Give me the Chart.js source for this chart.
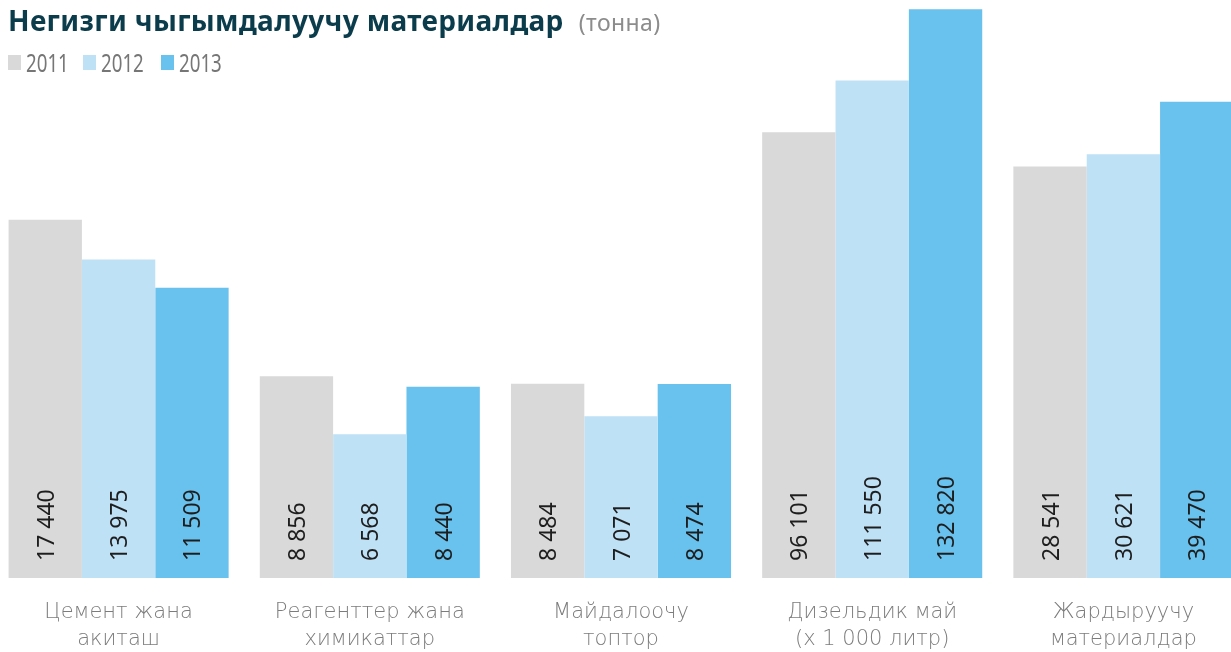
<!DOCTYPE html>
<html>
<head>
<meta charset="utf-8">
<script src="https://cdn.jsdelivr.net/npm/chart.js@4.4.1/dist/chart.umd.min.js"></script>
<style>
    html, body { margin: 0; padding: 0; background: #fff; overflow: hidden; }
    body { width: 1231px; height: 652px; position: relative; font-family: "Noto Sans", sans-serif; }
    #wrap { position: absolute; left: -7px; top: 0; width: 1256px; height: 652px; }
    #title { position: absolute; left: 8px; top: 0; z-index: 2; font-size: 28px; line-height: 40px; font-weight: 700; color: #0b3c4c; white-space: nowrap; letter-spacing: 0.35px; }
    #title span { font-size: 23px; font-weight: 400; color: #8c8c8c; margin-left: 15px; letter-spacing: 0.4px; }
    #legend { position: absolute; left: 0; top: 48px; z-index: 2; }
    #legend div { position: absolute; top: 0; height: 28px; white-space: nowrap; }
    #legend i { position: absolute; left: 0; top: 7px; width: 13px; height: 15px; }
    #legend span { position: absolute; top: -1px; font-size: 26px; line-height: 30px; color: #767676; transform: scaleX(0.72); transform-origin: left center; }
</style>
</head>
<body>
<div id="title">Негизги чыгымдалуучу материалдар<span>(тонна)</span></div>
<div id="legend"></div>
<div id="wrap"><canvas id="chart" width="1256" height="652"></canvas></div>
<script>
"use strict";

const categories = [
    ["Цемент жана", "акиташ"],
    ["Реагенттер жана", "химикаттар"],
    ["Майдалоочу", "топтор"],
    ["Дизельдик май", "(x 1 000 литр)"],
    ["Жардыруучу", "материалдар"]
];
const years = ["2011", "2012", "2013"];
const values2011 = [17440, 8856, 8484, 96101, 28541];
const values2012 = [13975, 6568, 7071, 111550, 30621];
const values2013 = [11509, 8440, 8474, 132820, 39470];

// each group is drawn on its own hidden scale, like in the original layout
const groupMin = [-13800, 900, 0, -36900, -40800];
const groupMax = [36600, 23700, 25250, 135600, 56600];
const colors = ["#d9d9d9", "#bfe1f6", "#69c1ed"];
const legendX = [8, 83, 161];

const series = [values2011, values2012, values2013];

function formatValue(v) {
    return String(v).replace(/\B(?=(\d{3})+(?!\d))/g, " ");
}

function buildDatasets() {
    const results = [];
    categories.forEach((cat, i) => {
        series.forEach((values, j) => {
            const data = categories.map((c, k) => (k === i ? values[k] : null));
            results.push({
                label: years[j],
                data: data,
                backgroundColor: colors[j],
                yAxisID: "y" + i,
                base: groupMin[i]
            });
        });
    });
    return results;
}

function buildScales() {
    const scales = {
        x: {
            grid: { display: false },
            border: { display: false },
            ticks: {
                color: "#7c7c7c",
                padding: 14,
                font: { family: "DejaVu Sans", size: 21, weight: 300, lineHeight: 1.24 }
            },
            afterFit: (scale) => { scale.height = 74; }
        }
    };
    categories.forEach((cat, i) => {
        scales["y" + i] = {
            display: false,
            min: groupMin[i],
            max: groupMax[i]
        };
    });
    return scales;
}

const valueLabels = {
    id: "valueLabels",
    afterDatasetsDraw(chart) {
        const ctx = chart.ctx;
        ctx.save();
        ctx.fillStyle = "#1e1e1e";
        ctx.font = "23px 'Noto Sans'";
        ctx.textAlign = "left";
        ctx.textBaseline = "middle";
        chart.data.datasets.forEach((ds, di) => {
            const meta = chart.getDatasetMeta(di);
            meta.data.forEach((bar, k) => {
                if (ds.data[k] === null) return;
                ctx.save();
                ctx.translate(bar.x + 2, bar.base - 17);
                ctx.rotate(-Math.PI / 2);
                ctx.fillText(formatValue(ds.data[k]), 0, 0);
                ctx.restore();
            });
        });
        ctx.restore();
    }
};

const legend = document.querySelector("#legend");
years.forEach((y, j) => {
    const item = document.createElement("div");
    item.style.left = legendX[j] + "px";
    item.innerHTML = `<i style="background:${colors[j]}"></i><span style="left:18px">${y}</span>`;
    legend.appendChild(item);
});

const ctx = document.querySelector("#chart").getContext("2d");
const configuration = {
    type: "bar",
    data: {
        labels: categories,
        datasets: buildDatasets()
    },
    options: {
        responsive: false,
        animation: false,
        skipNull: true,
        categoryPercentage: 0.876,
        barPercentage: 1,
        layout: { padding: 0 },
        plugins: {
            legend: { display: false },
            tooltip: { enabled: false }
        },
        scales: buildScales()
    },
    plugins: [valueLabels]
};
new Chart(ctx, configuration); //NOSONAR
</script>
</body>
</html>
